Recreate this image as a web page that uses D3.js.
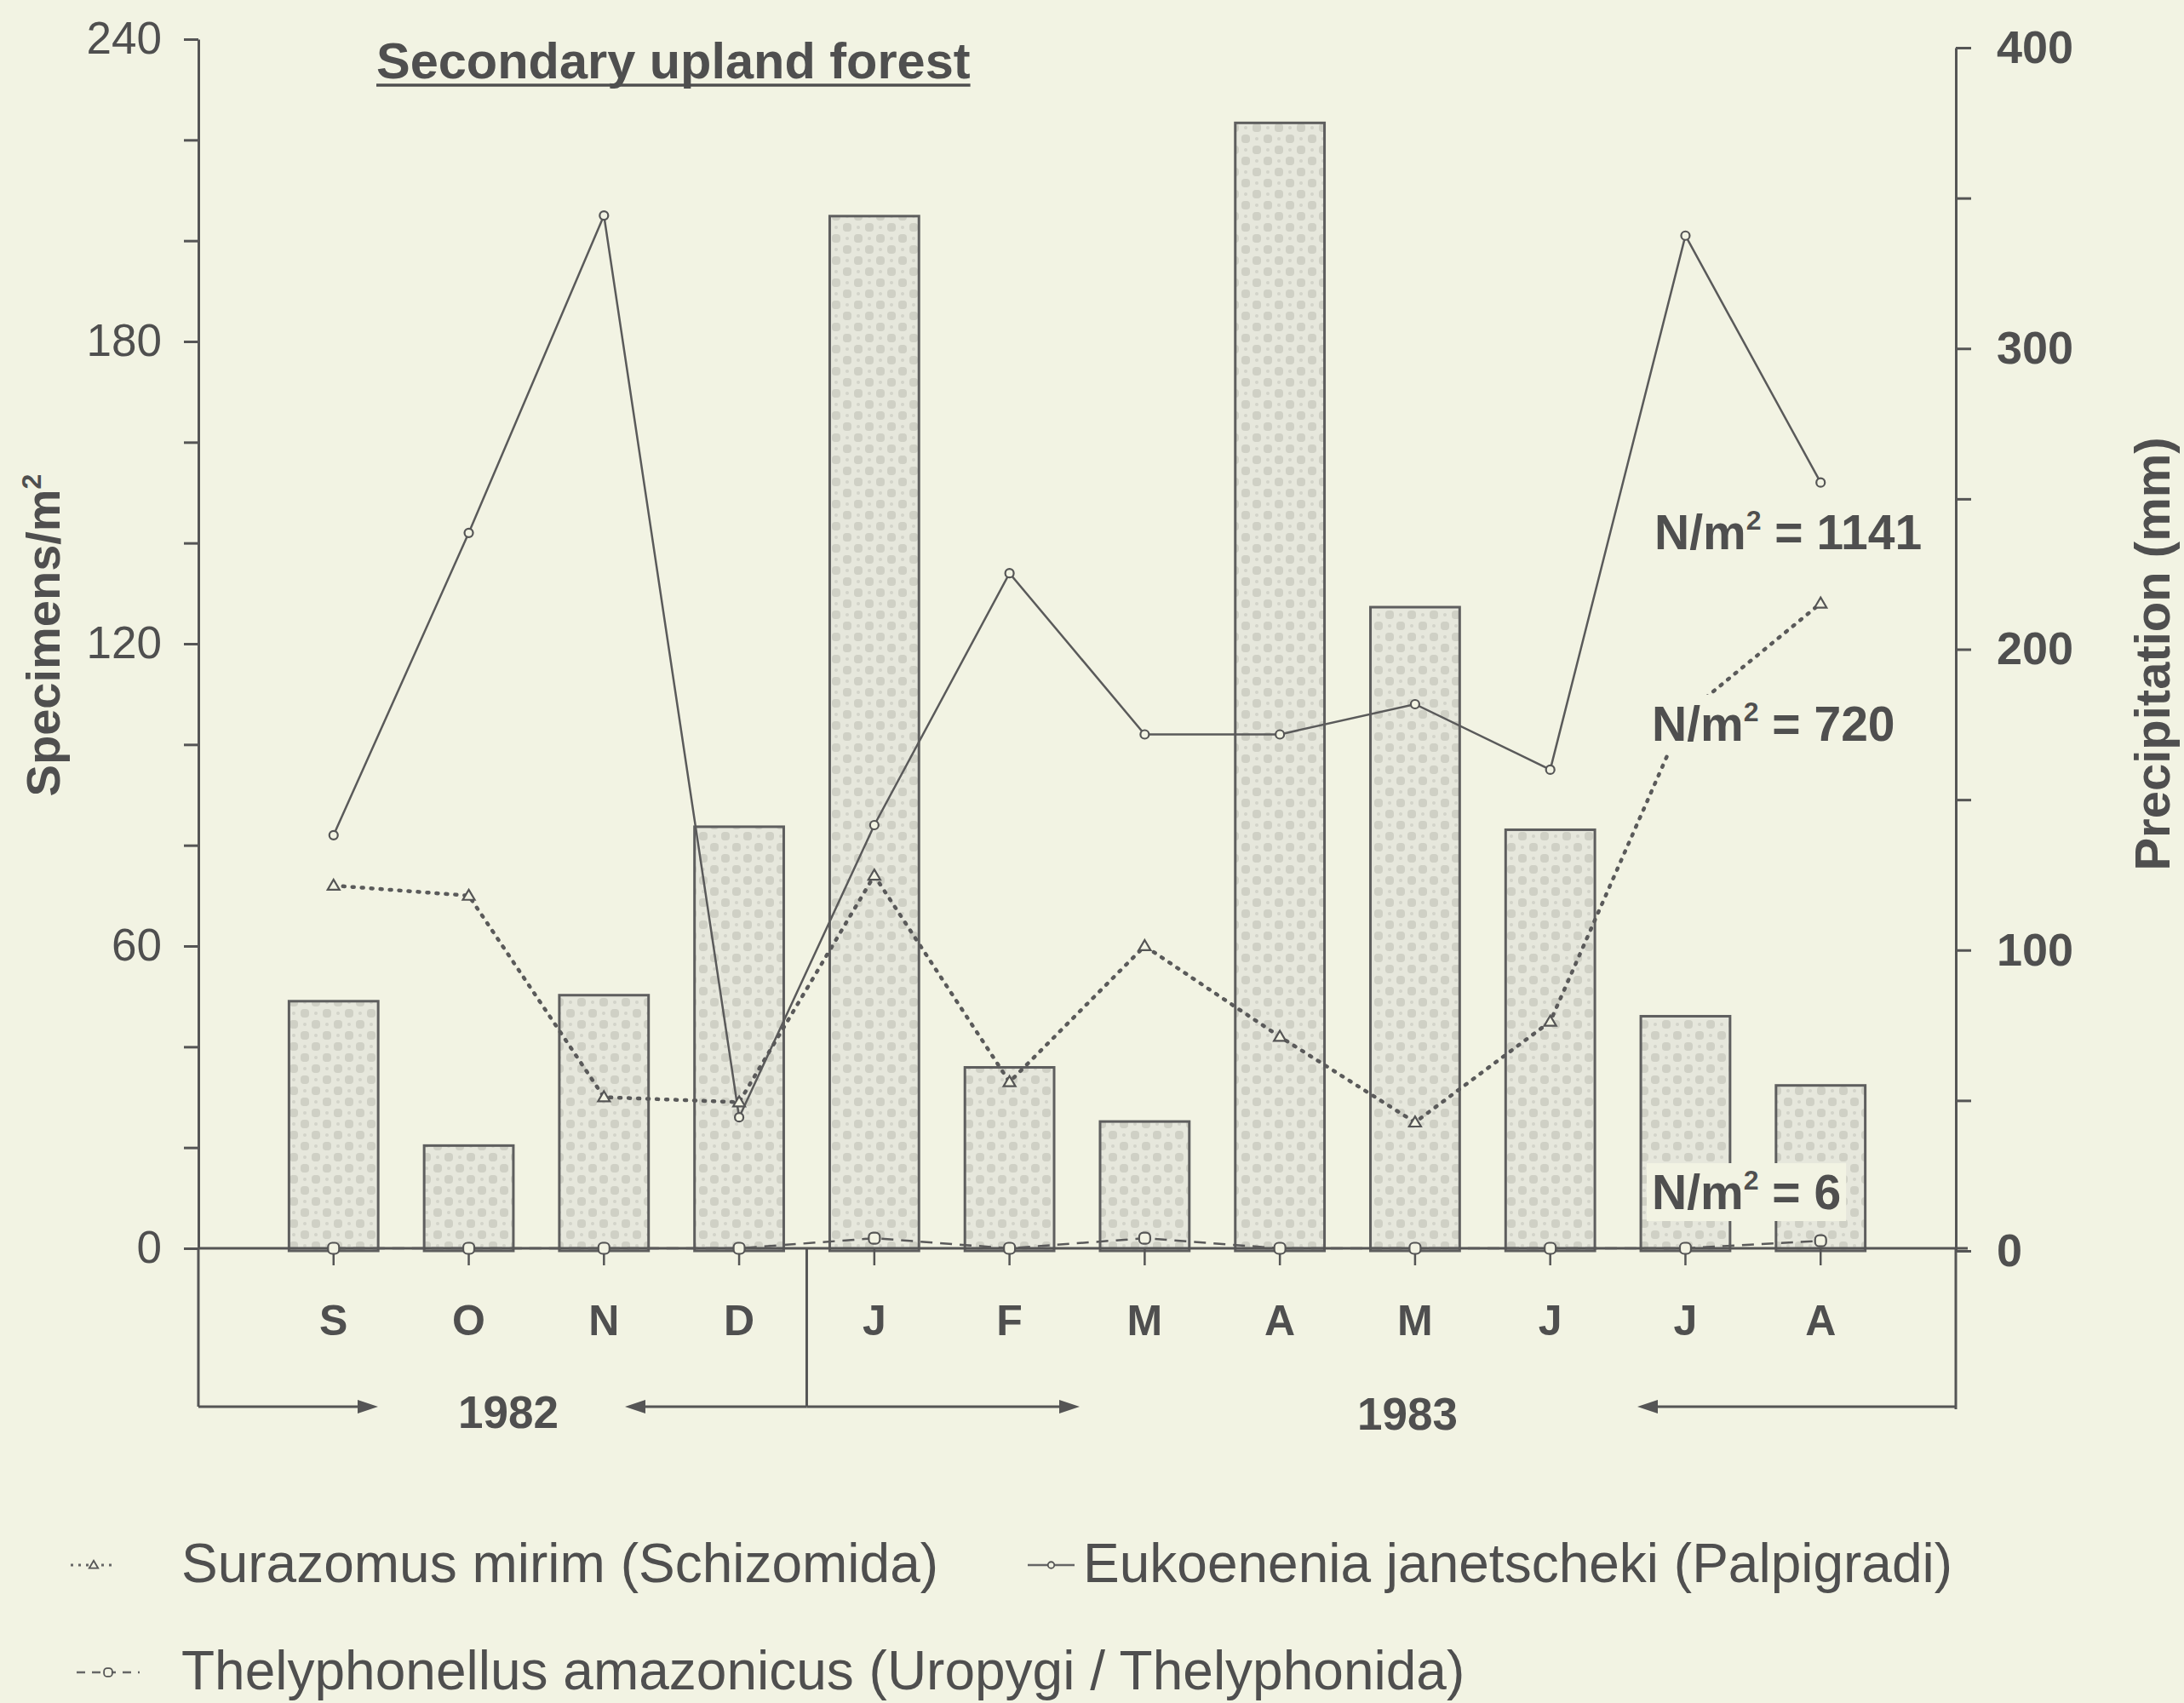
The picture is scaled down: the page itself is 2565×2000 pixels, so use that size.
<!DOCTYPE html>
<html>
<head>
<meta charset="utf-8">
<script src="https://cdn.jsdelivr.net/npm/d3@7"></script>
<style>
  body { margin: 0; background: #f2f3e3; }
  svg { display: block; }
  text { font-family: "Liberation Sans", Arial, Helvetica, sans-serif; fill: #4f4f4f; }
</style>
</head>
<body>
<div id="chart"></div>
<script>
// months, Sep 1982 - Aug 1983
const monthKeys = ["Sep", "Oct", "Nov", "Dec", "Jan", "Feb", "Mar", "Apr", "May", "Jun", "Jul", "Aug"];
const monthLabels = ["S", "O", "N", "D", "J", "F", "M", "A", "M", "J", "J", "A"];

// precipitation (mm), right axis
const precipitation = [83, 35, 85, 141, 344, 61, 43, 375, 214, 140, 78, 55];

// specimens / m2, left axis
const eukoenenia = [82, 142, 205, 26, 84, 134, 102, 102, 108, 95, 201, 152];
const surazomus = [72, 70, 30, 29, 74, 33, 60, 42, 25, 45, 106, 128];
const thelyphonellus = [0, 0, 0, 0, 2, 0, 2, 0, 0, 0, 0, 1.5];

const leftTicks = d3.range(0, 241, 20);
const rightTicks = d3.range(0, 401, 50);

const totals = [
  {label: "1141", key: "euk"},
  {label: "720", key: "sur"},
  {label: "6", key: "thel"}
];

const width = 2565, height = 2000;
const bg = "#f2f3e3", ink = "#555";

let svg = d3.select("#chart")
  .append("svg")
    .attr("width", width)
    .attr("height", height);

svg.append("rect").attr("width", width).attr("height", height).attr("fill", bg);

// stippled fill of the rain bars
const defs = svg.append("defs");
const pat = defs.append("pattern")
  .attr("id", "stipple")
  .attr("patternUnits", "userSpaceOnUse")
  .attr("width", 26).attr("height", 26);
pat.append("rect").attr("width", 26).attr("height", 26).attr("fill", "#e6e7dc");
pat.append("rect").attr("x", 2).attr("y", 2).attr("width", 10).attr("height", 10).attr("rx", 4).attr("fill", "#cfd0c5");
pat.append("rect").attr("x", 15).attr("y", 15).attr("width", 10).attr("height", 10).attr("rx", 4).attr("fill", "#cfd0c5");
pat.append("circle").attr("cx", 20).attr("cy", 7).attr("r", 2).attr("fill", "#d2d3c9");
pat.append("circle").attr("cx", 7).attr("cy", 20).attr("r", 2).attr("fill", "#d2d3c9");

const xLeft = 233, xRight = 2297;
const x = d3.scalePoint().domain(monthKeys).range([xLeft, xRight]).padding(1);
const yL = d3.scaleLinear().domain([0, 240]).range([1466, 46]);
const yR = d3.scaleLinear().domain([0, 400]).range([1469, 56]);
const base = yL(0);
const frameBottom = 1652;

// bars
const barW = x.step() * 0.66;
svg.append("g").selectAll("rect")
  .data(precipitation)
  .enter()
  .append("rect")
    .attr("x", (d, i) => x(monthKeys[i]) - barW / 2)
    .attr("y", d => yR(d))
    .attr("width", barW)
    .attr("height", d => yR(0) - yR(d))
    .attr("fill", "url(#stipple)")
    .attr("stroke", "#5e5e5e")
    .attr("stroke-width", 3);

// left axis
let leftAxis = svg.append("g")
  .attr("transform", "translate(" + xLeft + ",0)")
  .call(d3.axisLeft(yL).tickValues(leftTicks).tickSize(17).tickSizeOuter(0).tickPadding(26)
    .tickFormat(d => d % 60 === 0 ? d : ""));
leftAxis.selectAll("text").style("font-size", "53px").attr("fill", "#4f4f4f");

// right axis
let rightAxis = svg.append("g")
  .attr("transform", "translate(" + xRight + ",0)")
  .call(d3.axisRight(yR).tickValues(rightTicks).tickSize(18).tickSizeOuter(0).tickPadding(30)
    .tickFormat(d => d % 100 === 0 ? d : ""));
rightAxis.selectAll("text").style("font-size", "54px").style("font-weight", "bold").attr("fill", "#4f4f4f");

svg.selectAll(".domain, .tick line").attr("stroke", ink).attr("stroke-width", 3);

// frame below the baseline
const divX = (x("Dec") + x("Jan")) / 2;
svg.append("line").attr("x1", xLeft).attr("x2", xLeft).attr("y1", base).attr("y2", frameBottom);
svg.append("line").attr("x1", xRight).attr("x2", xRight).attr("y1", base).attr("y2", frameBottom + 3);
svg.append("line").attr("x1", divX).attr("x2", divX).attr("y1", base).attr("y2", frameBottom);
svg.append("line").attr("x1", xLeft).attr("x2", xRight + 14).attr("y1", base).attr("y2", base);
svg.selectAll("line").filter(function() { return !this.getAttribute("stroke"); })
  .attr("stroke", ink).attr("stroke-width", 3);

// month ticks and labels
svg.append("g").selectAll("line")
  .data(monthKeys)
  .enter()
  .append("line")
    .attr("x1", d => x(d)).attr("x2", d => x(d))
    .attr("y1", base).attr("y2", base + 20)
    .attr("stroke", ink).attr("stroke-width", 2.5);

svg.append("g").selectAll("text")
  .data(monthKeys)
  .enter()
  .append("text")
    .attr("x", d => x(d))
    .attr("y", 1568)
    .attr("text-anchor", "middle")
    .style("font-size", "50px")
    .style("font-weight", "bold")
    .text((d, i) => monthLabels[i]);

// year arrows
const arrows = [
  [xLeft, 444], [divX, 734], [divX, 1268], [xRight, 1923]
];
arrows.forEach(a => {
  const dir = a[1] > a[0] ? 1 : -1;
  svg.append("line")
    .attr("x1", a[0]).attr("x2", a[1] - dir * 18)
    .attr("y1", frameBottom).attr("y2", frameBottom)
    .attr("stroke", ink).attr("stroke-width", 3);
  svg.append("path")
    .attr("d", "M" + a[1] + "," + frameBottom + " l" + (-dir * 24) + ",-8 l0,16 z")
    .attr("fill", ink);
});

svg.append("text").attr("x", 597).attr("y", 1677).attr("text-anchor", "middle")
  .style("font-size", "53px").style("font-weight", "bold").text("1982");
svg.append("text").attr("x", 1653).attr("y", 1679).attr("text-anchor", "middle")
  .style("font-size", "53px").style("font-weight", "bold").text("1983");

// axis titles
let yLab = svg.append("text")
  .attr("transform", "translate(70,746) rotate(-90)")
  .attr("text-anchor", "middle")
  .style("font-size", "56px")
  .style("font-weight", "bold");
yLab.append("tspan").text("Specimens/m");
yLab.append("tspan").attr("dy", -22).style("font-size", "32px").text("2");

svg.append("text")
  .attr("transform", "translate(2548,768) rotate(-90)")
  .attr("text-anchor", "middle")
  .style("font-size", "58px")
  .style("font-weight", "bold")
  .text("Precipitation (mm)");

// title
let title = svg.append("text")
  .attr("x", 442).attr("y", 92)
  .style("font-size", "59.5px")
  .style("font-weight", "bold")
  .text("Secondary upland forest");
const tLen = title.node().getComputedTextLength();
svg.append("line").attr("x1", 442).attr("x2", 442 + tLen).attr("y1", 100).attr("y2", 100)
  .attr("stroke", "#4f4f4f").attr("stroke-width", 3.5);

// lines
const lineL = d3.line().x((d, i) => x(monthKeys[i])).y(d => yL(d));

const series = [
  {key: "thel", values: thelyphonellus, dash: "14,9", w: 2.5},
  {key: "sur", values: surazomus, dash: "2,9", w: 4.5},
  {key: "euk", values: eukoenenia, dash: null, w: 2.5}
];

series.forEach(s => {
  svg.append("path")
    .attr("d", lineL(s.values))
    .attr("fill", "none")
    .attr("stroke", "#5a5a5a")
    .attr("stroke-width", s.w)
    .attr("stroke-dasharray", s.dash)
    .attr("stroke-linecap", s.key === "sur" ? "round" : "butt");
});

function marker(g, key, cx, cy, scale) {
  scale = scale || 1;
  if (key === "euk") {
    g.append("circle").attr("cx", cx).attr("cy", cy).attr("r", 5 * scale);
  } else if (key === "sur") {
    const s = 7 * scale;
    g.append("path").attr("d", "M" + cx + "," + (cy - s) + " L" + (cx + s) + "," + (cy + s * 0.7) + " L" + (cx - s) + "," + (cy + s * 0.7) + " Z");
  } else {
    const s = 6.5 * scale;
    g.append("rect").attr("x", cx - s).attr("y", cy - s).attr("width", 2 * s).attr("height", 2 * s).attr("rx", 5 * scale);
  }
}

series.forEach(s => {
  let g = svg.append("g").attr("fill", bg).attr("stroke", "#555").attr("stroke-width", 2.2);
  s.values.forEach((v, i) => marker(g, s.key, x(monthKeys[i]), yL(v)));
});

// totals, on cream boxes
const totalPos = {euk: [1943, 645], sur: [1940, 870], thel: [1940, 1420]};
totals.forEach(t => {
  const p = totalPos[t.key];
  let g = svg.append("g");
  let box = g.append("rect").attr("fill", bg);
  let txt = g.append("text")
    .attr("x", p[0]).attr("y", p[1])
    .style("font-size", "57px")
    .style("font-weight", "bold");
  txt.append("tspan").text("N/m");
  txt.append("tspan").attr("dy", -23).style("font-size", "32px").text("2");
  txt.append("tspan").attr("dy", 23).text(" = " + t.label);
  const bb = txt.node().getBBox();
  box.attr("x", bb.x - 6).attr("y", bb.y - 2).attr("width", bb.width + 12).attr("height", bb.height + 4);
});

// legend
const legendRows = [
  {key: "sur", dash: "3,6", w: 3, x0: 83, x1: 137, y: 1858, tx: 213, text: "Surazomus mirim (Schizomida)"},
  {key: "euk", dash: null, w: 2.5, x0: 1207, x1: 1262, y: 1858, tx: 1272, text: "Eukoenenia janetscheki (Palpigradi)"},
  {key: "thel", dash: "10,8", w: 2.5, x0: 90, x1: 164, y: 1984, tx: 213, text: "Thelyphonellus amazonicus (Uropygi / Thelyphonida)"}
];

legendRows.forEach(r => {
  const my = r.y - 20;
  svg.append("line")
    .attr("x1", r.x0).attr("x2", r.x1).attr("y1", my).attr("y2", my)
    .attr("stroke", "#666").attr("stroke-width", r.w)
    .attr("stroke-dasharray", r.dash);
  let g = svg.append("g").attr("fill", bg).attr("stroke", "#555").attr("stroke-width", 1.8);
  marker(g, r.key, (r.x0 + r.x1) / 2, my, 0.75);
  svg.append("text")
    .attr("x", r.tx).attr("y", r.y)
    .style("font-size", "64px")
    .attr("fill", "#5a5a5a")
    .text(r.text);
});
</script>
</body>
</html>
